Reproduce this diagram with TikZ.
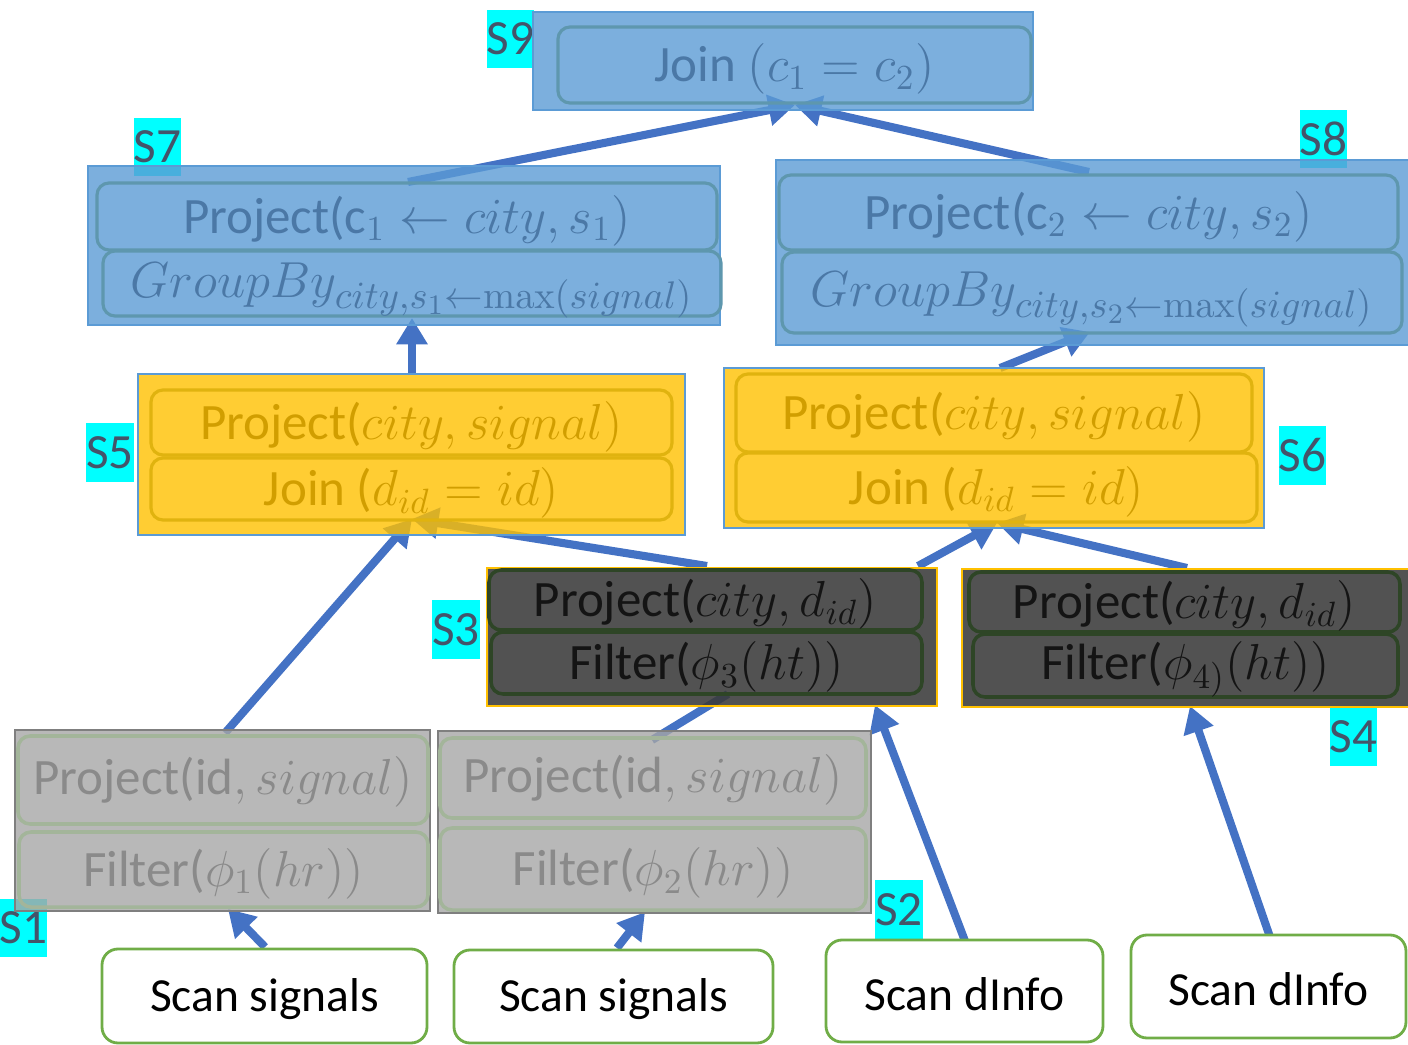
\documentclass[tikz,border=0pt]{standalone}
\usepackage[no-math]{fontspec}
\setmainfont{Carlito}
\usetikzlibrary{arrows.meta,calc,fit,backgrounds}

\definecolor{flowblue}{HTML}{4472C4}
\definecolor{tagcyan}{HTML}{00FFFF}
\definecolor{tagtext}{HTML}{44546A}
\definecolor{bluefill}{HTML}{5B9BD5}
\definecolor{blueedge}{HTML}{5B9BD5}
\definecolor{blueinner}{HTML}{5E97AE}
\definecolor{bluetext}{HTML}{4B78A6}
\definecolor{goldfill}{HTML}{FFC000}
\definecolor{goldinner}{HTML}{E0B30F}
\definecolor{goldtext}{HTML}{D19E00}
\definecolor{darkfill}{HTML}{3A3A3A}
\definecolor{darkedge}{HTML}{FFC000}
\definecolor{darkinner}{HTML}{2E4526}
\definecolor{darktext}{HTML}{141414}
\definecolor{greyfill}{HTML}{A6A6A6}
\definecolor{greyedge}{HTML}{7F7F7F}
\definecolor{greyinner}{HTML}{A3B59A}
\definecolor{greytext}{HTML}{8A8A8A}
\definecolor{scanedge}{HTML}{70AD47}

\tikzset{
  every node/.style={inner sep=0pt, outer sep=0pt},
  flowline/.style={draw=flowblue, line width=2.3pt},
  conn/.style={flowline, -{Triangle[length=7.5pt,width=8.5pt]}},
  tag/.style={fill=tagcyan, text=tagtext, font=\fontsize{14}{16}\selectfont,
    minimum width=0.46cm, minimum height=0.58cm},
  opfont/.style={font=\fontsize{14.5}{17}\selectfont},
  stageblue/.style={rectangle, fill=bluefill, fill opacity=0.8, draw=blueedge, line width=0.8pt},
  stagegold/.style={rectangle, fill=goldfill, fill opacity=0.8, draw=blueedge, line width=0.6pt},
  stagedark/.style={rectangle, fill=darkfill, fill opacity=0.88, draw=darkedge, line width=0.6pt},
  stagegrey/.style={rectangle, fill=greyfill, fill opacity=0.8, draw=greyedge, line width=0.8pt},
  opblue/.style={rectangle, rounded corners=0.12cm, draw=blueinner, line width=0.9pt},
  opgold/.style={rectangle, rounded corners=0.12cm, draw=goldinner, line width=0.9pt},
  opdark/.style={rectangle, rounded corners=0.12cm, draw=darkinner, line width=1pt},
  opgrey/.style={rectangle, rounded corners=0.12cm, draw=greyinner, line width=1pt},
  txtblue/.style={text=bluetext, opfont},
  txtgold/.style={text=goldtext, opfont},
  txtdark/.style={text=darktext, opfont},
  txtgrey/.style={text=greytext, opfont},
  groupfont/.style={font=\fontsize{15.5}{18}\selectfont},
  scanbox/.style={rectangle, rounded corners=0.16cm, fill=white, draw=scanedge, line width=0.8pt},
  scantext/.style={text=black, font=\fontsize{13.5}{16}\selectfont},
}

\begin{document}
\begin{tikzpicture}[x=0.01cm,y=-0.01cm]
\useasboundingbox (0,0) rectangle (1408,1045);

% stage tags sit underneath the stage boxes
\begin{pgfonlayer}{background}
  \node[tag] (tag9) at (510.5,39) {S9};
  \node[tag] (tag7) at (157.5,147) {S7};
  \node[tag] (tag8) at (1323.5,139) {S8};
  \node[tag] (tag5) at (110,452.5) {S5};
  \node[tag] (tag6) at (1302.5,455.5) {S6};
  \node[tag] (tag3) at (456,629.5) {S3};
  \node[tag] (tag4) at (1353.5,736.5) {S4};
  \node[tag] (tag1) at (23.5,928) {S1};
  \node[tag] (tag2) at (899,909.5) {S2};
\end{pgfonlayer}

% stage boxes
\node[stageblue, fit={(533,12) (1033,110)}] (s9) {};
\node[stageblue, fit={(88,166) (720,325)}] (s7) {};
\node[stageblue, fit={(776,160) (1412,345)}] (s8) {};
\node[stagegold, fit={(138,374) (685,535)}] (s5) {};
\node[stagegold, fit={(724,368) (1264,528)}] (s6) {};
\node[stagedark, fit={(487,568) (937,706)}] (s3) {};
\node[stagedark, fit={(962,569) (1412,707)}] (s4) {};
\node[stagegrey, fit={(15,730) (430,911)}] (s1) {};
\node[stagegrey, fit={(438,731) (871,913)}] (s2) {};

% operator frames inside the stages
\node[opblue, fit={(558,27) (1031,103)}] (j9) {};
\node[opblue, fit={(97,183) (717,250)}] (p7) {};
\node[opblue, fit={(103,251) (721,316)}] (g7) {};
\node[opblue, fit={(779,175) (1398,250)}] (p8) {};
\node[opblue, fit={(782,252) (1402,333)}] (g8) {};
\node[opgold, fit={(151,390) (672,455)}] (p5) {};
\node[opgold, fit={(151,458) (672,520)}] (j5) {};
\node[opgold, fit={(736,374) (1252,452)}] (p6) {};
\node[opgold, fit={(736,453) (1257,522)}] (j6) {};
\node[opdark, fit={(489,570) (922,630)}] (p3) {};
\node[opdark, fit={(491,632) (922,694)}] (f3) {};
\node[opdark, fit={(969,572) (1400,632)}] (p4) {};
\node[opdark, fit={(973,634) (1398,697)}] (f4) {};
\node[opgrey, fit={(18,736) (428,824)}] (p1) {};
\node[opgrey, fit={(19,832) (428,907)}] (f1) {};
\node[opgrey, fit={(440,738) (866,818)}] (p2) {};
\node[opgrey, fit={(440,828) (866,910)}] (f2) {};

% operator texts
\node[txtblue] (j9t) at ($(j9.center)+(0,4)$) {Join $(c_1 = c_2)$};
\node[txtblue] (p7t) at ($(p7.center)+(0,4)$) {Project(c$_1 \leftarrow city, s_1)$};
\node[txtblue, groupfont] (g7t) at ($(g7.center)+(0,7)$) {$GroupBy_{city,s_1\leftarrow \mathrm{max}(signal)}$};
\node[txtblue] (p8t) at ($(p8.center)+(0,4)$) {Project(c$_2 \leftarrow city, s_2)$};
\node[txtblue, groupfont] (g8t) at ($(g8.center)+(0,7)$) {$GroupBy_{city,s_2\leftarrow \mathrm{max}(signal)}$};
\node[txtgold] (p5t) at ($(p5.center)+(0,4)$) {Project($city, signal)$};
\node[txtgold] (j5t) at ($(j5.center)+(0,4)$) {Join ($d_{id} = id)$};
\node[txtgold] (p6t) at ($(p6.center)+(0,4)$) {Project($city, signal)$};
\node[txtgold] (j6t) at ($(j6.center)+(0,4)$) {Join ($d_{id} = id)$};
\node[txtdark] (p3t) at ($(p3.center)+(0,4)$) {Project($city, d_{id})$};
\node[txtdark] (f3t) at ($(f3.center)+(0,4)$) {Filter($\phi_3(ht))$};
\node[txtdark] (p4t) at ($(p4.center)+(0,4)$) {Project($city, d_{id})$};
\node[txtdark] (f4t) at ($(f4.center)+(0,4)$) {Filter($\phi_{4)}(ht))$};
\node[txtgrey] (p1t) at ($(p1.center)+(0,2)$) {Project(id$, signal)$};
\node[txtgrey] (f1t) at ($(f1.center)+(0,4)$) {Filter($\phi_1(hr))$};
\node[txtgrey] (p2t) at ($(p2.center)+(0,2)$) {Project(id$, signal)$};
\node[txtgrey] (f2t) at ($(f2.center)+(0,4)$) {Filter($\phi_2(hr))$};

% table scans
\node[scanbox, fit={(102,949) (427,1043)}] (scan1) {};
\node[scanbox, fit={(454,950) (773,1043)}] (scan2) {};
\node[scanbox, fit={(826,940) (1103,1042)}] (scan3) {};
\node[scanbox, fit={(1131,935) (1406,1038)}] (scan4) {};
\node[scantext] (scan1t) at ($(scan1.center)+(0,3)$) {Scan signals};
\node[scantext] (scan2t) at ($(scan2.center)+(0,3)$) {Scan signals};
\node[scantext] (scan3t) at ($(scan3.center)+(0,3)$) {Scan dInfo};
\node[scantext] (scan4t) at ($(scan4.center)+(0,3)$) {Scan dInfo};

% data flow, drawn below the translucent stage boxes
\begin{pgfonlayer}{background}
  \draw[conn] ($(scan1.north)+(0.5,-2)$) -- ($(s1.south)+(5.5,-2)$);
  \draw[conn] ($(scan2.north)+(3.5,-2)$) -- ($(s2.south)+(-9.5,-1)$);
  \draw[conn] ($(scan3.north)+(0.5,1)$) -- ($(s3.south)+(163,-1)$);
  \draw[conn] ($(scan4.north)+(1.5,2)$) -- ($(s4.south)+(3,-1)$);
  \draw[conn] ($(s1.north)+(2.5,3)$) -- ($(s5.south)+(0.5,-16)$);
  \draw[flowline] ($(s2.north)+(-2.5,9)$) -- ($(s3.south)+(16,-12)$);
  \draw[conn] ($(s3.north)+(-5,-2)$) -- ($(s5.south)+(0.5,-16)$);
  \draw[conn] ($(s3.north)+(206,-2)$) -- ($(s6.south)+(3,-5)$);
  \draw[conn] ($(s4.north)+(0,-1)$) -- ($(s6.south)+(3,-5)$);
  \draw[conn] ($(s5.north)+(0.5,1)$) -- ($(s7.south)+(8,-7)$);
  \draw[conn] ($(s6.north)+(6,0)$) -- ($(s8.south)+(-4,-13)$);
  \draw[conn] ($(s7.north)+(4,16)$) -- ($(s9.south)+(12,-5)$);
  \draw[conn] ($(s8.north)+(-5,12)$) -- ($(s9.south)+(12,-5)$);
\end{pgfonlayer}
\end{tikzpicture}
\end{document}
